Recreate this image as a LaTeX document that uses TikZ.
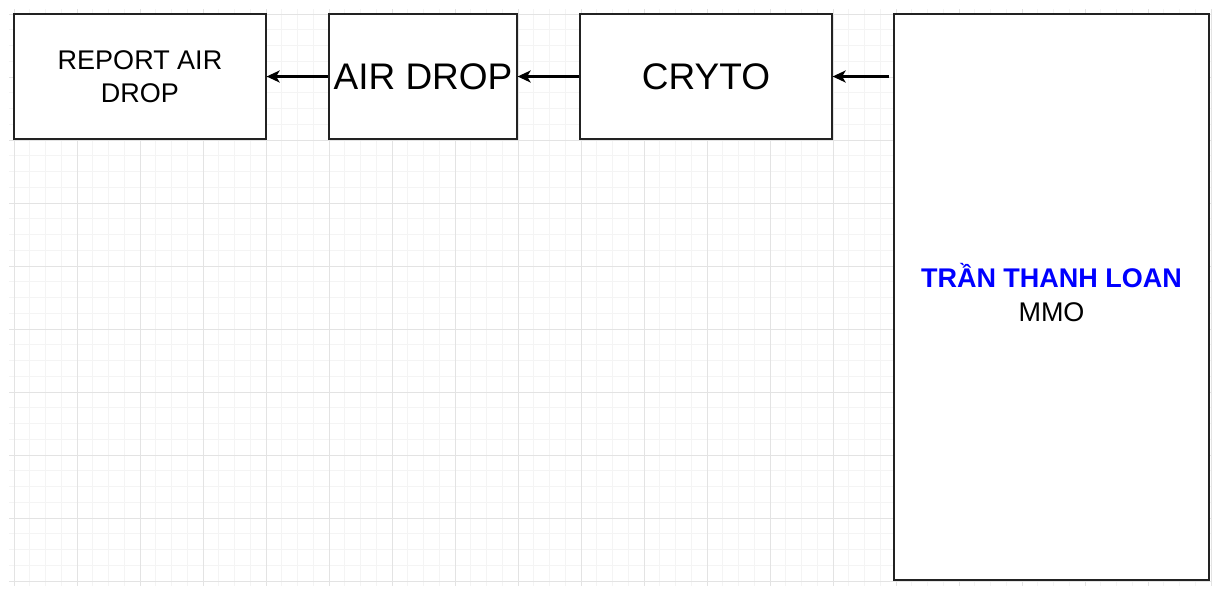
\documentclass[tikz,border=0pt]{standalone}
\usepackage{fontspec}
\setmainfont{Liberation Sans}
\usetikzlibrary{arrows.meta}
\definecolor{gridminor}{HTML}{F4F4F4}
\definecolor{gridmajor}{HTML}{E3E3E3}
\definecolor{boxline}{HTML}{222222}
\tikzset{
  box/.style={draw=boxline, line width=1.3pt, fill=white, rectangle, inner sep=0pt, align=center, text=black},
  arr/.style={-{Stealth[length=13pt,width=12pt,inset=3.5pt]}, line width=2.6pt, black},
  minorline/.style={gridminor, line width=0.8pt},
  majorline/.style={gridmajor, line width=1pt}
}
\begin{document}
\begin{tikzpicture}[x=1pt,y=-1pt]
\useasboundingbox (0,0) rectangle (1216,598);
\fill[white] (0,0) rectangle (1216,598);
% grid
\foreach \k in {0,...,76}{
  \draw[minorline] ({14+\k*15.75},9) -- ({14+\k*15.75},586);
}
\foreach \k in {0,...,36}{
  \draw[minorline] (9,{14+\k*15.75}) -- (1211,{14+\k*15.75});
}
\foreach \k in {0,...,19}{
  \draw[majorline] ({14+\k*63},9) -- ({14+\k*63},586);
}
\foreach \k in {0,...,9}{
  \draw[majorline] (9,{14+\k*63}) -- (1211,{14+\k*63});
}
% boxes
\node[box, minimum width=252pt, minimum height=125pt, font=\fontsize{27}{33}\selectfont] (rep) at (140,76.5) {REPORT AIR\\DROP};
\node[box, minimum width=188pt, minimum height=125pt, font=\fontsize{37}{44}\selectfont] (air) at (423,76.5) {AIR DROP};
\node[box, minimum width=252pt, minimum height=125pt, font=\fontsize{37}{44}\selectfont] (cry) at (706,76.5) {CRYTO};
\node[box, minimum width=315pt, minimum height=566pt, font=\fontsize{27}{33}\selectfont] (big) at (1051.5,297) {};
\node[align=center, inner sep=0pt, font=\fontsize{27}{34}\selectfont] (bigtext) at ([yshift=4pt]big.center) {{\color[HTML]{0000FF}\bfseries TRẦN THANH LOAN}\\MMO};
% connectors
\coordinate (bs) at ([xshift=-4pt]big.west |- cry.east);
\draw[arr] (bs) -- (cry.east);
\draw[arr] (cry.west) -- (air.east);
\draw[arr] (air.west) -- (rep.east);
\end{tikzpicture}
\end{document}
